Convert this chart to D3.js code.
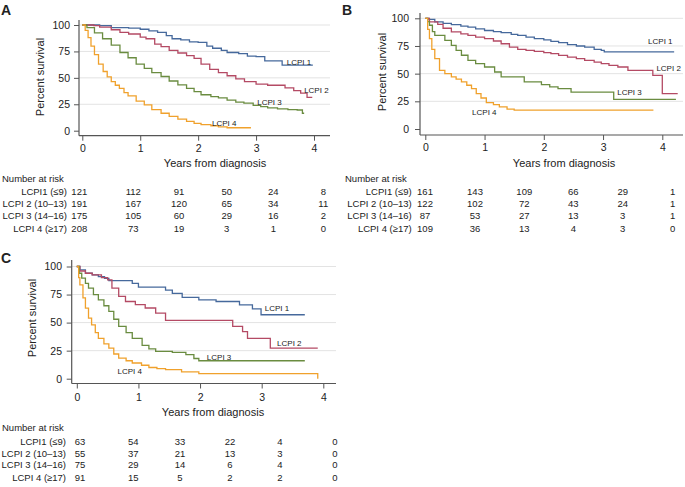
<!DOCTYPE html>
<html><head><meta charset="utf-8">
<script src="https://cdn.jsdelivr.net/npm/d3@7"></script>
<style>
body{margin:0;background:#fff}
svg text{font-family:"Liberation Sans",Arial,Helvetica,sans-serif;fill:#222}
</style>
</head><body>
<svg id="chart" width="685" height="487"></svg>
<script>
// ---------------- DATA ----------------
const groups = ["LCPI 1", "LCPI 2", "LCPI 3", "LCPI 4"];
const riskLabels = ["LCPI1 (\u22649)", "LCPI 2 (10\u201313)", "LCPI 3 (14\u201316)", "LCPI 4 (\u226517)"];
const xTicks = [0, 1, 2, 3, 4];
const yTicks = [0, 25, 50, 75, 100];
const panelLetters = ["A", "B", "C"];
const xTitle = "Years from diagnosis";
const yTitle = "Percent survival";
const riskTitle = "Number at risk";

// Numbers at risk (rows = LCPI 1..4, columns = years 0..5 of table)
const riskA = [[121,112,91,50,24,8],[191,167,120,65,34,11],[175,105,60,29,16,2],[208,73,19,3,1,0]];
const riskB = [[161,143,109,66,29,1],[122,102,72,43,24,1],[87,53,27,13,3,1],[109,36,13,4,3,0]];
const riskC = [[63,54,33,22,4,0],[55,37,21,13,3,0],[75,29,14,6,4,0],[91,15,5,2,2,0]];

// Kaplan-Meier step points [years, percent survival]
const survA1 = [[0,100],[0.15,100],[0.3,99.5],[0.5,97.5],[0.8,97],[1.0,96],[1.15,94.5],[1.3,93],[1.45,90],[1.55,87],[1.7,86],[1.85,84],[2.0,83.5],[2.15,80],[2.25,78],[2.4,76],[2.5,74],[2.7,73],[2.85,70.5],[3.0,70],[3.15,66],[3.45,62],[3.98,62]];
const survA2 = [[0,100],[0.2,99.5],[0.3,98],[0.5,95.5],[0.65,93],[0.8,91.5],[1.0,88.5],[1.1,87],[1.25,82],[1.36,79.5],[1.5,76],[1.65,73.5],[1.8,71],[1.93,68.5],[2.05,63],[2.2,58],[2.35,55],[2.5,52],[2.65,49],[2.8,46.5],[3.0,44],[3.2,43],[3.5,40.5],[3.65,38],[3.77,35.5],[3.88,31.6],[3.97,31.6]];
const survA3 = [[0,100],[0.08,97.5],[0.21,92.5],[0.35,87],[0.5,81],[0.65,74],[0.79,69],[0.93,63],[1.07,59],[1.2,55],[1.36,51.3],[1.5,47],[1.65,43.4],[1.8,40],[1.93,37],[2.05,34],[2.22,32.3],[2.35,31],[2.5,29],[2.65,27],[2.79,26],[2.95,24],[3.08,22.8],[3.2,21.5],[3.37,20.6],[3.55,20],[3.71,19.6],[3.8,16.5],[3.83,16.5]];
const survA4 = [[0,100],[0.05,95],[0.1,88],[0.15,80],[0.21,72],[0.28,63],[0.36,56],[0.43,51],[0.5,46.5],[0.57,43],[0.64,40],[0.72,36],[0.79,33],[0.93,28],[1.07,24.4],[1.2,20],[1.36,16.5],[1.5,13.5],[1.65,11],[1.8,8.8],[1.93,7],[2.05,5.8],[2.22,4.7],[2.35,3.6],[2.5,2.8],[2.9,2.2]];

const survB1 = [[0,100],[0.06,99],[0.16,96.7],[0.3,95.5],[0.44,94.3],[0.6,93],[0.72,92],[0.85,90.5],[1.0,89],[1.15,88],[1.28,87],[1.45,85.5],[1.56,84.6],[1.7,83],[1.84,81.6],[2.0,80.5],[2.12,79.2],[2.25,78],[2.4,76.2],[2.55,75],[2.69,74],[2.85,72],[2.97,71],[3.02,69.6],[4.2,69.6]];
const survB2 = [[0,100],[0.07,96.7],[0.21,94.5],[0.3,91],[0.44,87.7],[0.6,86],[0.72,84.6],[0.85,83],[1.0,81.6],[1.15,79.5],[1.28,77],[1.42,74],[1.56,72],[1.7,71],[1.84,70.2],[2.0,69],[2.12,68],[2.25,66.5],[2.4,65],[2.55,63.5],[2.69,62],[2.85,60.5],[2.97,59],[3.1,57.5],[3.25,56],[3.42,53],[3.81,53],[3.84,48.5],[4.0,32],[4.26,32]];
const survB3 = [[0,100],[0.04,97],[0.07,93.7],[0.12,88],[0.16,84.6],[0.33,80],[0.44,75.6],[0.52,71],[0.61,66.6],[0.72,62],[0.85,59],[1.0,56],[1.17,51.5],[1.28,47],[1.56,47],[1.67,42.5],[1.96,40],[2.1,38],[2.24,36.4],[2.46,33.4],[3.16,33.4],[3.18,26.8],[4.23,26.8]];
const survB4 = [[0,100],[0.04,90],[0.07,81.6],[0.11,72],[0.16,63.6],[0.24,53],[0.33,50],[0.44,47],[0.52,45],[0.61,42.5],[0.7,39.5],[0.78,36.4],[0.86,32],[0.94,28],[1.03,23.8],[1.15,22],[1.25,20],[1.38,18],[1.5,17],[3.85,17]];

const survC1 = [[0,100],[0.05,97],[0.14,94],[0.25,92.5],[0.35,91],[0.45,89.5],[0.52,87.5],[0.9,85],[1.0,81.6],[1.44,79],[1.55,76],[1.71,72.4],[1.98,70.3],[2.26,68.8],[2.64,65.8],[2.85,62.3],[2.99,57],[3.7,57]];
const survC2 = [[0,100],[0.05,96],[0.14,94],[0.25,92.5],[0.4,90],[0.5,88],[0.57,80.7],[0.68,73.3],[0.79,68.8],[0.95,66],[1.11,63],[1.28,58.5],[1.44,52],[2.47,52],[2.53,46.6],[2.69,42],[2.77,36],[3.14,27.3],[3.91,27.3]];
const survC3 = [[0,100],[0.04,94],[0.08,89.6],[0.14,85],[0.19,80.7],[0.27,75],[0.35,70.3],[0.44,65],[0.52,60],[0.6,53],[0.68,46.6],[0.8,41],[0.9,36],[1.06,29.7],[1.17,26.5],[1.28,24.3],[1.55,23.4],[1.77,21.4],[1.9,18],[1.98,16],[3.7,16]];
const survC4 = [[0,100],[0.03,90],[0.05,83.7],[0.1,72],[0.14,62.9],[0.19,54],[0.24,48],[0.3,41],[0.35,36],[0.44,31],[0.52,27.3],[0.6,22],[0.68,18.4],[0.8,16],[0.9,14],[1.05,12],[1.17,10],[1.3,9],[1.44,8],[1.7,6],[1.98,4.5],[3.89,4.5],[3.91,0]];

const survA = [survA1, survA2, survA3, survA4];
const survB = [survB1, survB2, survB3, survB4];
const survC = [survC1, survC2, survC3, survC4];

// ---------------- LAYOUT / STYLE ----------------
const colors = ["#46699c", "#b44a64", "#6a8c40", "#f0a12c"];
const panels = [
  {letter:0, surv:survA, risk:riskA,
   xr:[82.3,314], yr:[130.7,25], axL:79, axR:330, axT:20, axB:135.7,
   letterPos:[1,15], yTitlePos:[44,77], xTitlePos:[215,167], tickLabY:152, yLabR:70,
   labelAt:[[3.53,65],[3.83,38.5],[3.02,27],[2.24,7.3]],
   tbl:{tx:2, ty:182.3, rows:[194.5,206.8,219.3,231.5], labR:67, cols:[79.3,133.3,179,226.7,273.3,323.3]}},
  {letter:1, surv:survB, risk:riskB,
   xr:[425.3,662.3], yr:[129,18.3], axL:420, axR:683, axT:13, axB:135,
   letterPos:[342,15], yTitlePos:[386,72], xTitlePos:[564,167], tickLabY:151, yLabR:409,
   labelAt:[[3.76,78.9],[3.90,55.1],[3.24,32.8],[0.79,15.6]],
   tbl:{tx:345, ty:182.3, rows:[194.5,206.8,219.3,231.5], labR:411.7, cols:[425,475,524.3,573.3,622.7,672.7]}},
  {letter:2, surv:survC, risk:riskC,
   xr:[76.8,323.3], yr:[378.7,266.5], axL:71.7, axR:336, axT:260, axB:383.5,
   letterPos:[1,263], yTitlePos:[36,318], xTitlePos:[213,416], tickLabY:400.5, yLabR:62,
   labelAt:[[3.05,62.9],[3.25,31.8],[2.11,19.5],[0.66,6.3]],
   tbl:{tx:2, ty:430.6, rows:[445,456.6,468.3,480.6], labR:66, cols:[80,133.3,180,230,280,335]}}
];

const svg = d3.select("#chart");
const axisColor = "#555";

panels.forEach(p => {
  const g = svg.append("g");
  const x = d3.scaleLinear().domain([0,4]).range(p.xr);
  const y = d3.scaleLinear().domain([0,100]).range(p.yr);

  // gridlines
  g.append("g").selectAll("line").data(yTicks.filter(d => d > 0)).join("line")
    .attr("x1", p.axL).attr("x2", p.axR)
    .attr("y1", d => y(d)).attr("y2", d => y(d))
    .attr("stroke", "#e3e3e3").attr("stroke-width", 1);

  // y axis
  const yAx = g.append("g").attr("transform", `translate(${p.axL},0)`)
    .call(d3.axisLeft(y).tickValues(yTicks).tickSize(5).tickPadding(3).tickSizeOuter(0));
  yAx.select(".domain").remove();
  yAx.append("line").attr("x1",0).attr("x2",0).attr("y1",p.axT).attr("y2",p.axB)
    .attr("stroke", axisColor).attr("stroke-width", 1.2);
  yAx.selectAll(".tick line").attr("stroke", axisColor);
  yAx.selectAll(".tick text").attr("font-size", 10.5).attr("fill","#222")
    .attr("x", p.yLabR - p.axL).attr("text-anchor","end");

  // x axis
  const xAx = g.append("g").attr("transform", `translate(0,${p.axB})`)
    .call(d3.axisBottom(x).tickValues(xTicks).tickFormat(d3.format("d")).tickSize(5).tickSizeOuter(0));
  xAx.select(".domain").remove();
  xAx.append("line").attr("x1",p.axL).attr("x2",p.axR).attr("y1",0).attr("y2",0)
    .attr("stroke", axisColor).attr("stroke-width", 1.2);
  xAx.selectAll(".tick line").attr("stroke", axisColor);
  xAx.selectAll(".tick text").attr("font-size", 10.5).attr("fill","#222")
    .attr("y", p.tickLabY - p.axB).attr("dy", null);

  // curves
  const line = d3.line().x(d => x(d[0])).y(d => y(d[1])).curve(d3.curveStepAfter);
  g.append("g").selectAll("path").data(p.surv).join("path")
    .attr("d", line).attr("fill","none")
    .attr("stroke", (d,i) => colors[i]).attr("stroke-width", 1.3);

  // curve labels
  g.append("g").selectAll("text").data(groups).join("text")
    .attr("x", (d,i) => x(p.labelAt[i][0]))
    .attr("y", (d,i) => y(p.labelAt[i][1]))
    .attr("dy", "0.35em").attr("font-size", 8).text(d => d);

  // titles
  g.append("text").attr("x", p.xTitlePos[0]).attr("y", p.xTitlePos[1])
    .attr("text-anchor","middle").attr("font-size", 11).text(xTitle);
  g.append("text").attr("transform", `translate(${p.yTitlePos[0]},${p.yTitlePos[1]}) rotate(-90)`)
    .attr("text-anchor","middle").attr("font-size", 11).text(yTitle);
  g.append("text").attr("x", p.letterPos[0]).attr("y", p.letterPos[1])
    .attr("font-size", 14).attr("font-weight","bold").attr("fill","#000").text(panelLetters[p.letter]);

  // number at risk table
  const t = p.tbl;
  g.append("text").attr("x", t.tx).attr("y", t.ty).attr("font-size", 9.5).text(riskTitle);
  g.append("g").selectAll("text").data(riskLabels).join("text")
    .attr("x", t.labR).attr("y", (d,i) => t.rows[i]).attr("text-anchor","end")
    .attr("font-size", 9.5).text(d => d);
  p.risk.forEach((row, i) => {
    g.append("g").selectAll("text").data(row).join("text")
      .attr("x", (d,j) => t.cols[j]).attr("y", t.rows[i]).attr("text-anchor","middle")
      .attr("font-size", 9.5).text(d => d);
  });
});
</script>
</body></html>
